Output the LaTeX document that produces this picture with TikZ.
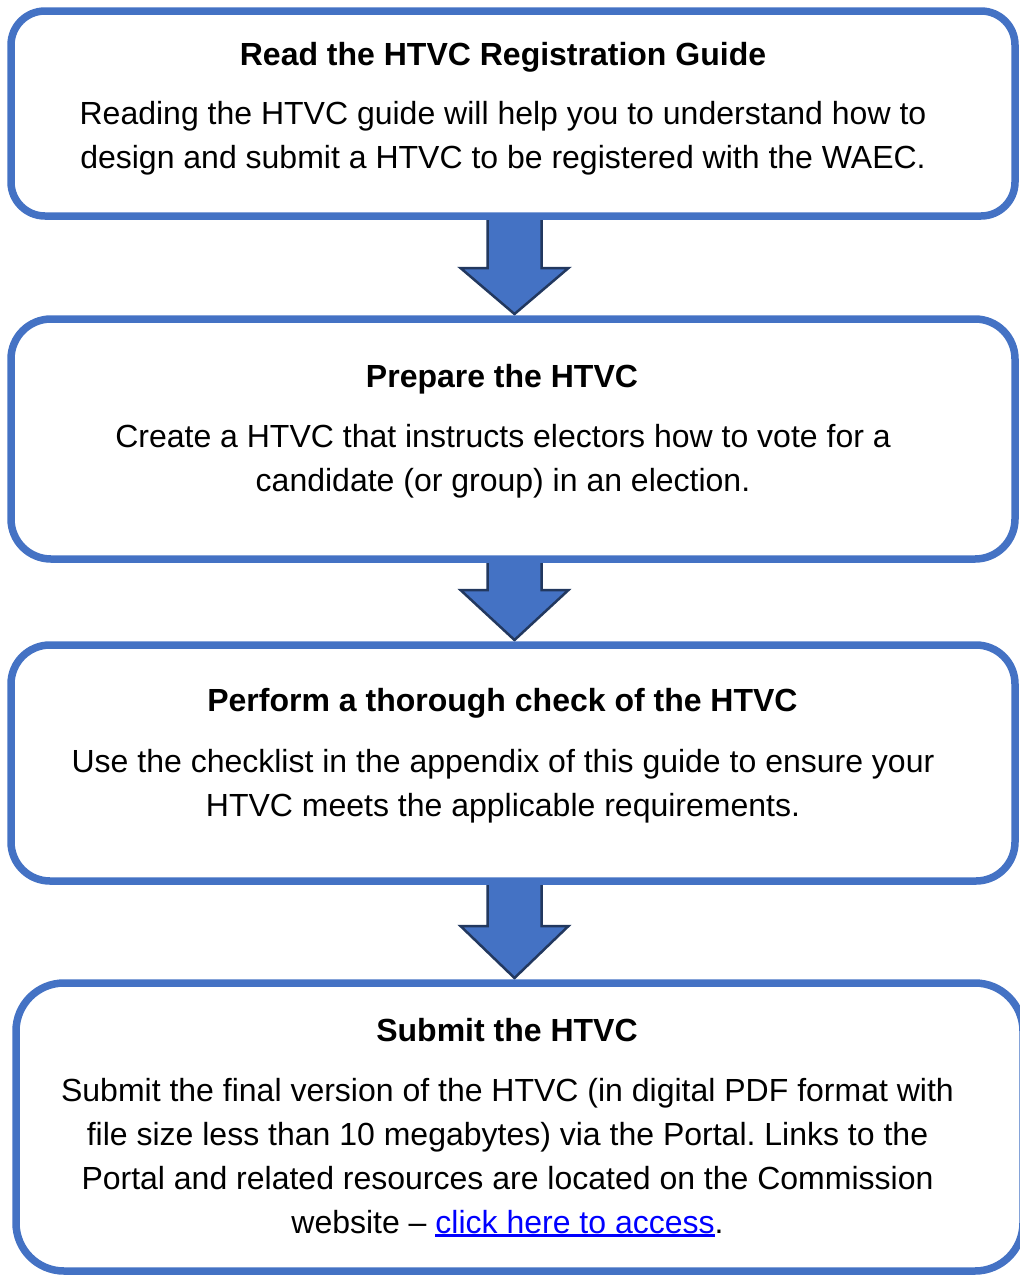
\documentclass[tikz,border=0pt]{standalone}
\usepackage{fontspec}
\setmainfont{Liberation Sans}
\frenchspacing
\usetikzlibrary{calc}
\definecolor{boxblue}{HTML}{4472C4}
\definecolor{arrowedge}{HTML}{22385F}
\definecolor{linkblue}{HTML}{0000FF}
\pgfdeclarelayer{bg}
\pgfsetlayers{bg,main}
% underlined hyperlink-style text
\newcommand\ulink[1]{\textcolor{linkblue}{\setbox0\hbox{#1}\rlap{\rule[-3.6pt]{\wd0}{2.4pt}}\box0}}
% block arrow from the bottom of one box to the top of the next
% #1 upper box, #2 lower box, #3 head length
\newcommand\flowarrow[3]{%
  \coordinate (fx) at (#1.south |- #2.north);
  \coordinate (ftop) at ($(#1.south)+(1.5,0)$);
  \coordinate (ftip) at ($(fx)+(1.5,-5)$);
  \draw[blockarrow] ($(ftop)+(-27,0)$) -- ($(ftip)+(-27,-#3)$) -- ($(ftip)+(-54,-#3)$)
    -- (ftip) -- ($(ftip)+(54,-#3)$) -- ($(ftip)+(27,-#3)$) -- ($(ftop)+(27,0)$) -- cycle;}
\begin{document}
\begin{tikzpicture}[x=1pt,y=-1pt,
  stepbox/.style={draw=boxblue, line width=7.5pt, fill=white, inner sep=0pt, outer sep=0pt},
  heading/.style={anchor=north, inner sep=0pt, font=\fontsize{32}{44}\selectfont\bfseries},
  bodytext/.style={anchor=north, inner sep=0pt, align=center, font=\fontsize{32}{44}\selectfont},
  blockarrow/.style={fill=boxblue, draw=arrowedge, line width=2.5pt, line join=miter}]
\useasboundingbox (0,0) rectangle (1020,1275);

% the four steps
\node[stepbox, minimum width=1004pt, minimum height=205pt, rounded corners=34pt] (b1) at (513,113.5) {};
\node[stepbox, minimum width=1004pt, minimum height=240pt, rounded corners=40pt] (b2) at (513,439) {};
\node[stepbox, minimum width=1004pt, minimum height=236pt, rounded corners=39pt] (b3) at (513,763) {};
\node[stepbox, minimum width=1007pt, minimum height=288pt, rounded corners=48pt] (b4) at (519.5,1127) {};

% connecting arrows, behind the boxes
\begin{pgfonlayer}{bg}
  \flowarrow{b1}{b2}{46}
  \flowarrow{b2}{b3}{50}
  \flowarrow{b3}{b4}{52}
\end{pgfonlayer}

% step 1
\node[heading] (t1) at (503,34) {\strut Read the HTVC Registration Guide};
\node[bodytext] (d1) at (503,93) {\strut Reading the HTVC guide will help you to understand how to\\
  design and submit a HTVC to be registered with the WAEC.};

% step 2
\node[heading] (t2) at (502,356) {\strut Prepare the HTVC};
\node[bodytext] (d2) at (503,416) {\strut Create a HTVC that instructs electors how to vote for a\\
  candidate (or group) in an election.};

% step 3
\node[heading] (t3) at (502.5,680) {\strut Perform a thorough check of the HTVC};
\node[bodytext] (d3) at (503,741) {\strut Use the checklist in the appendix of this guide to ensure your\\
  HTVC meets the applicable requirements.};

% step 4
\node[heading] (t4) at (507,1010) {\strut Submit the HTVC};
\node[bodytext] (d4) at (507.5,1070) {\strut Submit the final version of the HTVC (in digital PDF format with\\
  file size less than 10 megabytes) via the Portal. Links to the\\
  Portal and related resources are located on the Commission\\
  website \textendash{} \ulink{click here to access}.};
\end{tikzpicture}
\end{document}
